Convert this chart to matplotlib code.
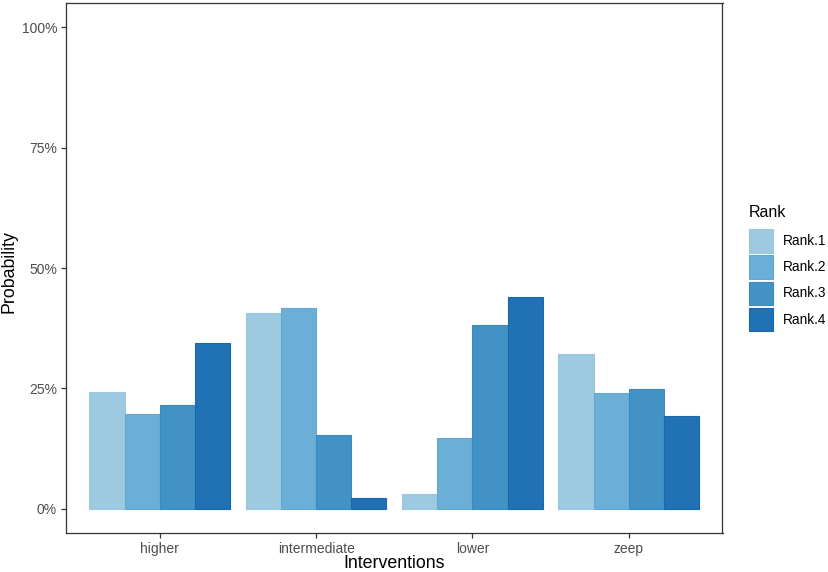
import numpy as np
import matplotlib
matplotlib.use("Agg")
import matplotlib.pyplot as plt
from matplotlib.patches import Rectangle
from matplotlib.ticker import FuncFormatter

plt.rcParams['font.family'] = ['Liberation Sans', 'DejaVu Sans']

interventions = ["higher", "intermediate", "lower", "zeep"]
rank_names = ["Rank.1", "Rank.2", "Rank.3", "Rank.4"]
rank1 = [24.2, 40.6, 3.1, 32.1]
rank2 = [19.7, 41.6, 14.7, 24.0]
rank3 = [21.6, 15.4, 38.1, 24.9]
rank4 = [34.5, 2.3, 44.0, 19.2]
colors = ["#9ECAE1", "#6BAED6", "#4292C6", "#2171B5"]
edges = ["#9BC8E0", "#62A8D3", "#3A8BC2", "#1967B0"]

W, H = 829, 572
fig = plt.figure(figsize=(W / 100, H / 100), dpi=100)
ax = fig.add_axes([66 / W, 39 / H, 656.5 / W, 530 / H])

x = np.arange(1, len(interventions) + 1)
width = 0.225
series = [rank1, rank2, rank3, rank4]
for i, vals in enumerate(series):
    ax.bar(x + (i - 1.5) * width, vals, width, color=colors[i],
           edgecolor=edges[i], linewidth=0.8, label=rank_names[i])

ax.set_xlim(0.4, 4.6)
ax.set_ylim(-5, 105)
ax.set_yticks([0, 25, 50, 75, 100])
ax.yaxis.set_major_formatter(FuncFormatter(lambda v, p: f"{v:.0f}%"))
ax.set_xticks(x)
ax.set_xticklabels(interventions)

for s in ax.spines.values():
    s.set_color("#333333")
    s.set_linewidth(0.9)
ax.tick_params(axis="both", colors="#333333", length=3.6, width=0.9,
               labelsize=10, labelcolor="#4D4D4D", pad=2.8)

# axis titles
fig.text(394 / W, 1 - 568 / H, "Interventions", fontsize=12.8,
         ha="center", va="baseline")
fig.text(9.5 / W, 1 - 272 / H, "Probability", fontsize=12.8, rotation=90,
         ha="center", va="center")

# legend
fig.text(749 / W, 1 - 217 / H, "Rank", fontsize=11.5, va="baseline", ha="left")
for i, name in enumerate(rank_names):
    top = 229.3 + i * 26.2
    fig.add_artist(Rectangle((749 / W, 1 - (top + 23.5) / H), 24.5 / W, 23.5 / H,
                             transform=fig.transFigure, facecolor=colors[i],
                             edgecolor=edges[i], linewidth=0.8))
    fig.text(783 / W, 1 - (top + 11.75) / H, name, fontsize=9.8,
             ha="left", va="center")

fig.savefig("out.png", dpi=100)
